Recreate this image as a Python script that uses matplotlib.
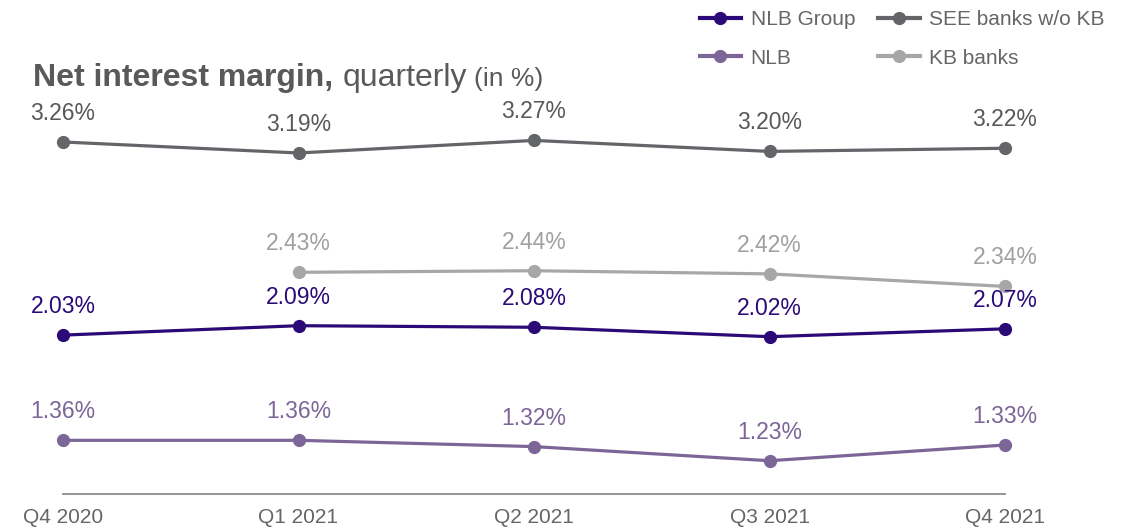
import numpy as np
import matplotlib.pyplot as plt

plt.rcParams['font.family'] = ['Liberation Sans', 'DejaVu Sans']

quarters = ['Q4 2020', 'Q1 2021', 'Q2 2021', 'Q3 2021', 'Q4 2021']
nlb_group = [2.03, 2.09, 2.08, 2.02, 2.07]
nlb = [1.36, 1.36, 1.32, 1.23, 1.33]
see_banks = [3.26, 3.19, 3.27, 3.20, 3.22]
kb_banks = [np.nan, 2.43, 2.44, 2.42, 2.34]

series = [
    ('NLB Group', nlb_group, '#2b0a78', '#2b0a78'),
    ('NLB', nlb, '#7c6698', '#7c6698'),
    ('SEE banks w/o KB', see_banks, '#636569', '#595959'),
    ('KB banks', kb_banks, '#a7a7a9', '#a0a0a0'),
]

fig = plt.figure(figsize=(11.38, 5.27), dpi=100)
ax = fig.add_axes([63 / 1138, 1 - 493.7 / 527, 942 / 1138, 373.7 / 527])

x = np.arange(len(quarters))
handles = []
for name, vals, col, tcol in series:
    h, = ax.plot(x, vals, color=col, lw=2.3, marker='o', ms=8.5,
                 label=name, clip_on=False)
    handles.append(h)
    for xi, v in zip(x, vals):
        if np.isnan(v):
            continue
        ax.annotate(f'{v:.2f}%', (xi, v), xytext=(0, 20.5), textcoords='offset points',
                    ha='center', va='center', fontsize=16.5, color=tcol)

ax.set_xlim(0, 4)
ax.set_ylim(1.02, 3.40)
ax.set_yticks([])
ax.set_xticks(x)
ax.set_xticklabels(quarters, fontsize=15, color='#666666')
ax.tick_params(axis='x', length=0, pad=10.5)
for s in ['top', 'left', 'right']:
    ax.spines[s].set_visible(False)
ax.spines['bottom'].set_color('#8c8c8c')
ax.spines['bottom'].set_linewidth(1.3)
ax.patch.set_alpha(0)

fig.text(33 / 1138, 1 - 78 / 527, 'Net interest margin,', fontsize=23, fontweight='bold',
         color='#595959', va='center', ha='left')
fig.text(343 / 1138, 1 - 78 / 527, 'quarterly', fontsize=23, color='#595959',
         va='center', ha='left')
fig.text(474 / 1138, 1 - 79 / 527, '(in %)', fontsize=19, color='#595959',
         va='center', ha='left')

leg = fig.legend(handles, [s[0] for s in series], ncol=2, loc='upper right',
                 bbox_to_anchor=(1117 / 1138, 1.005), frameon=False, fontsize=15,
                 handlelength=2.0, handletextpad=0.45, columnspacing=1.1,
                 labelspacing=0.95, borderaxespad=0.2)
for t in leg.get_texts():
    t.set_color('#666666')
for lh in leg.get_lines():
    lh.set_linewidth(3)

fig.savefig('out.png', dpi=100)
